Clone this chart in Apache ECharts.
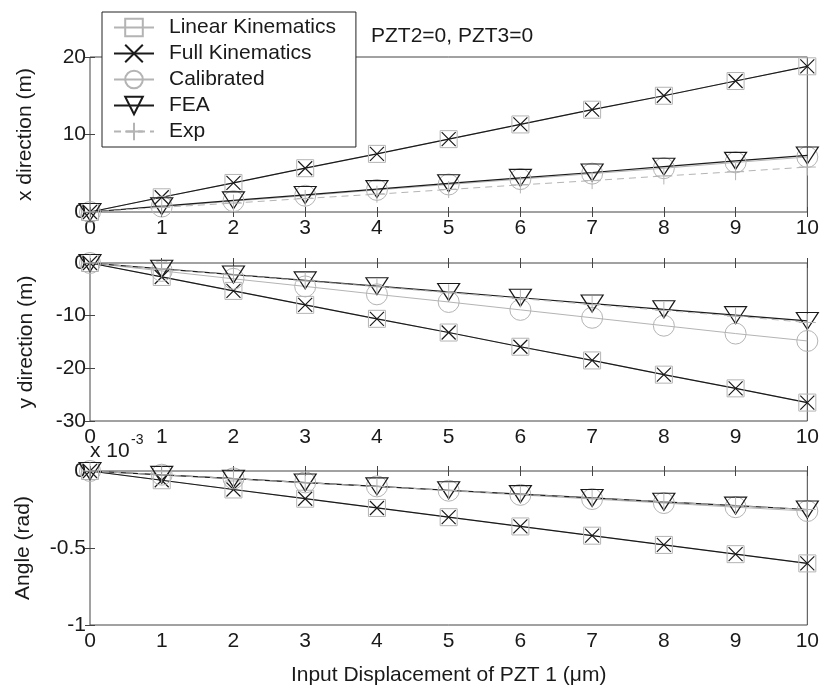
<!DOCTYPE html>
<html>
<head>
<meta charset="utf-8">
<script src="https://cdn.jsdelivr.net/npm/echarts@6/dist/echarts.min.js"></script>
<style>
html, body { margin: 0; padding: 0; background: #fff; }
#chart { width: 822px; height: 687px; }
</style>
</head>
<body>
<div id="chart"></div>
<script>
// input displacement of PZT 1 (um)
const inputs = [0, 1, 2, 3, 4, 5, 6, 7, 8, 9, 10];

// x direction (m)
const xLinear = [0, 1.9, 3.75, 5.65, 7.5, 9.4, 11.3, 13.2, 15.0, 16.9, 18.8];
const xFull = [0, 1.9, 3.75, 5.65, 7.5, 9.4, 11.3, 13.2, 15.0, 16.9, 18.8];
const xCalibrated = [0, 0.7, 1.4, 2.1, 2.85, 3.55, 4.25, 4.95, 5.65, 6.4, 7.1];
const xFEA = [0, 0.75, 1.5, 2.2, 2.95, 3.7, 4.4, 5.1, 5.85, 6.6, 7.3];
const xExp = [0, 0.6, 1.15, 1.75, 2.3, 2.9, 3.5, 4.05, 4.65, 5.2, 5.8];

// y direction (m)
const yLinear = [0, -2.65, -5.3, -7.95, -10.6, -13.2, -15.9, -18.5, -21.2, -23.8, -26.5];
const yFull = [0, -2.65, -5.3, -7.95, -10.6, -13.2, -15.9, -18.5, -21.2, -23.8, -26.5];
const yCalibrated = [0, -1.5, -3.0, -4.45, -5.95, -7.4, -8.9, -10.4, -11.9, -13.4, -14.8];
const yFEA = [0, -1.1, -2.2, -3.3, -4.4, -5.5, -6.6, -7.7, -8.8, -9.9, -11.0];
const yExp = [0, -1.15, -2.25, -3.4, -4.5, -5.65, -6.75, -7.9, -9.0, -10.1, -11.3];

// angle (x 10^-3 rad)
const aLinear = [0, -0.06, -0.12, -0.18, -0.24, -0.3, -0.36, -0.42, -0.48, -0.54, -0.6];
const aFull = [0, -0.06, -0.12, -0.18, -0.24, -0.3, -0.36, -0.42, -0.48, -0.54, -0.6];
const aCalibrated = [0, -0.024, -0.048, -0.074, -0.1, -0.128, -0.155, -0.182, -0.208, -0.235, -0.26];
const aFEA = [0, -0.025, -0.05, -0.075, -0.1, -0.125, -0.15, -0.175, -0.2, -0.225, -0.25];
const aExp = [0, -0.025, -0.05, -0.076, -0.1, -0.126, -0.151, -0.177, -0.2, -0.226, -0.25];

const names = ['Linear Kinematics', 'Full Kinematics', 'Calibrated', 'FEA', 'Exp'];

const font = 'Liberation Sans, Arial, sans-serif';
const fs = 21;
const ink = '#1a1a1a';
const grey = '#b4b4b4';

const grids = [
	{ left: 90, width: 721, top: 57, height: 155 },
	{ left: 90, width: 721, top: 263, height: 158 },
	{ left: 90, width: 721, top: 471, height: 155 }
];
const yRanges = [
	{ min: 0, max: 20, interval: 10, name: 'x direction (m)', gap: 54 },
	{ min: -30, max: 0, interval: 10, name: 'y direction (m)', gap: 53 },
	{ min: -1, max: 0, interval: 0.5, name: 'Angle (rad)', gap: 56 }
];

const styles = [
	{ symbol: 'rect', size: 17, color: grey, width: 1, type: 'solid' },
	{ symbol: 'path://M0,0L10,10M10,0L0,10', size: 14, color: ink, width: 1.2, type: 'solid' },
	{ symbol: 'circle', size: 21, color: grey, width: 1, type: 'solid' },
	{ symbol: 'path://M0,0L10,0L5,8Z', size: [22, 17], color: ink, width: 1.2, type: 'solid' },
	{ symbol: 'path://M5,0L5,10M0,5L10,5', size: 17, color: grey, width: 1, type: [7, 5] }
];

const panels = [
	[xLinear, xFull, xCalibrated, xFEA, xExp],
	[yLinear, yFull, yCalibrated, yFEA, yExp],
	[aLinear, aFull, aCalibrated, aFEA, aExp]
];

let xAxes = [];
let yAxes = [];
grids.forEach((g, i) => {
	xAxes.push({
		type: 'value', gridIndex: i, min: 0, max: 10, interval: 1, position: 'bottom',
		axisLine: { show: false },
		axisTick: { inside: true, length: 5, lineStyle: { color: '#444' } },
		axisLabel: { color: ink, fontSize: fs, fontFamily: font, margin: 6 },
		splitLine: { show: false },
		name: i === 2 ? 'Input Displacement of PZT 1 (\u03bcm)' : '',
		nameLocation: 'middle', nameGap: 40,
		nameTextStyle: { color: ink, fontSize: fs, fontFamily: font }
	});
	yAxes.push({
		type: 'value', gridIndex: i, min: yRanges[i].min, max: yRanges[i].max,
		interval: yRanges[i].interval, position: 'left',
		axisLine: { show: false },
		axisTick: { inside: true, length: 5, lineStyle: { color: '#444' } },
		axisLabel: { color: ink, fontSize: fs, fontFamily: font, margin: 4 },
		splitLine: { show: false },
		name: yRanges[i].name, nameLocation: 'middle', nameRotate: 90, nameGap: yRanges[i].gap,
		nameTextStyle: { color: ink, fontSize: fs, fontFamily: font }
	});
});
grids.forEach((g, i) => {
	xAxes.push({
		type: 'value', gridIndex: i, min: 0, max: 10, interval: 1, position: 'top',
		axisLine: { show: false },
		axisTick: { inside: true, length: 5, lineStyle: { color: '#444' } },
		axisLabel: { show: false }, splitLine: { show: false }
	});
	yAxes.push({
		type: 'value', gridIndex: i, min: yRanges[i].min, max: yRanges[i].max,
		interval: yRanges[i].interval, position: 'right',
		axisLine: { show: false },
		axisTick: { inside: true, length: 5, lineStyle: { color: '#444' } },
		axisLabel: { show: false }, splitLine: { show: false }
	});
});

let series = [];
panels.forEach((sets, p) => {
	sets.forEach((vals, k) => {
		const s = styles[k];
		series.push({
			name: names[k],
			type: 'line',
			xAxisIndex: p,
			yAxisIndex: p,
			data: inputs.map((x, j) => [x, vals[j]]),
			symbol: s.symbol,
			symbolSize: s.size,
			showSymbol: true,
			clip: false,
			itemStyle: { color: 'rgba(0,0,0,0)', borderColor: s.color, borderWidth: s.width },
			lineStyle: { color: s.color, width: s.width, type: s.type },
			emphasis: { disabled: true },
			animation: false
		});
	});
});

const chart = echarts.init(document.getElementById('chart'));
chart.setOption({
	backgroundColor: '#fff',
	animation: false,
	grid: grids.map(g => Object.assign({ show: true, borderColor: '#444', borderWidth: 1, backgroundColor: 'transparent' }, g)),
	xAxis: xAxes,
	yAxis: yAxes,
	legend: {
		data: names,
		orient: 'vertical',
		left: 102,
		top: 12,
		padding: [5, 20, 5, 11],
		itemWidth: 40,
		itemHeight: 22,
		itemGap: 5,
		backgroundColor: '#fff',
		borderColor: '#222',
		borderWidth: 1,
		textStyle: { color: ink, fontSize: fs, fontFamily: font, padding: [0, 0, 0, 10] },
		selectedMode: false
	},
	title: {
		text: 'PZT2=0, PZT3=0',
		left: 366,
		top: 21,
		textStyle: { color: ink, fontSize: fs, fontWeight: 'normal', fontFamily: font }
	},
	graphic: [{
		type: 'text',
		left: 90,
		top: 441,
		style: { text: 'x 10', font: fs + 'px Liberation Sans, Arial, sans-serif', fill: ink }
	}, {
		type: 'text',
		left: 131,
		top: 433,
		style: { text: '-3', font: '14px Liberation Sans, Arial, sans-serif', fill: ink }
	}],
	series: series
});
</script>
</body>
</html>
